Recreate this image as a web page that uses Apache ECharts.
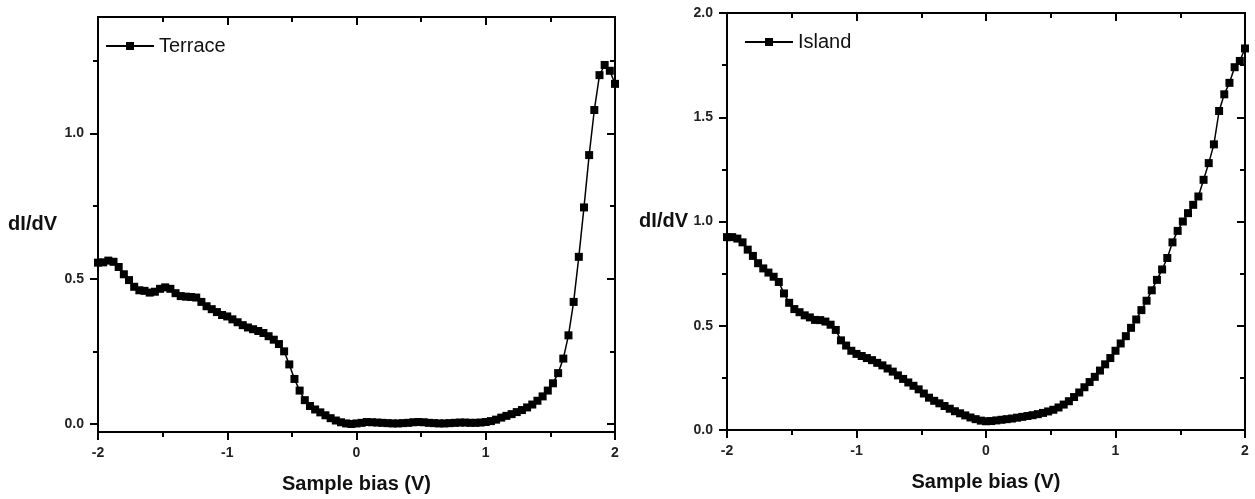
<!DOCTYPE html>
<html><head><meta charset="utf-8">
<script src="https://cdn.jsdelivr.net/npm/echarts@6/dist/echarts.min.js"></script>
<style>html,body{margin:0;padding:0;background:#fff}#c{width:1255px;height:499px}</style>
</head><body><div id="c"></div>
<script>
// Sample bias (V)
const bias = [-2,-1.96,-1.92,-1.88,-1.84,-1.8,-1.76,-1.72,-1.68,-1.64,
  -1.6,-1.56,-1.52,-1.48,-1.44,-1.4,-1.36,-1.32,-1.28,-1.24,
  -1.2,-1.16,-1.12,-1.08,-1.04,-1,-0.96,-0.92,-0.88,-0.84,
  -0.8,-0.76,-0.72,-0.68,-0.64,-0.6,-0.56,-0.52,-0.48,-0.44,
  -0.4,-0.36,-0.32,-0.28,-0.24,-0.2,-0.16,-0.12,-0.08,-0.04,
  0,0.04,0.08,0.12,0.16,0.2,0.24,0.28,0.32,0.36,
  0.4,0.44,0.48,0.52,0.56,0.6,0.64,0.68,0.72,0.76,
  0.8,0.84,0.88,0.92,0.96,1,1.04,1.08,1.12,1.16,
  1.2,1.24,1.28,1.32,1.36,1.4,1.44,1.48,1.52,1.56,
  1.6,1.64,1.68,1.72,1.76,1.8,1.84,1.88,1.92,1.96,2];
// dI/dV, Terrace
const terrace = [0.555,0.556,0.562,0.558,0.54,0.515,0.495,0.472,0.46,0.458,
  0.452,0.455,0.465,0.47,0.465,0.45,0.44,0.438,0.437,0.435,
  0.42,0.405,0.395,0.385,0.375,0.37,0.36,0.35,0.34,0.332,
  0.326,0.32,0.313,0.302,0.29,0.275,0.25,0.205,0.155,0.115,
  0.082,0.062,0.05,0.04,0.03,0.02,0.012,0.006,0.002,0.0,
  0.002,0.004,0.007,0.006,0.005,0.004,0.003,0.002,0.002,0.003,
  0.004,0.006,0.007,0.006,0.004,0.003,0.002,0.002,0.003,0.004,
  0.005,0.005,0.004,0.004,0.005,0.007,0.01,0.015,0.022,0.028,
  0.034,0.041,0.048,0.057,0.067,0.08,0.095,0.115,0.14,0.175,
  0.225,0.305,0.42,0.575,0.745,0.925,1.08,1.2,1.235,1.215,1.17];
// dI/dV, Island
const island = [0.925,0.925,0.918,0.9,0.865,0.835,0.8,0.775,0.755,0.735,
  0.71,0.655,0.61,0.58,0.565,0.55,0.54,0.528,0.527,0.52,
  0.505,0.48,0.43,0.405,0.38,0.365,0.355,0.345,0.335,0.322,
  0.31,0.295,0.28,0.262,0.245,0.228,0.212,0.195,0.175,0.155,
  0.14,0.128,0.115,0.102,0.09,0.08,0.07,0.06,0.052,0.045,
  0.042,0.043,0.046,0.049,0.052,0.055,0.059,0.063,0.067,0.071,
  0.076,0.082,0.089,0.097,0.108,0.122,0.138,0.158,0.18,0.205,
  0.23,0.255,0.285,0.315,0.345,0.38,0.415,0.45,0.49,0.53,
  0.575,0.62,0.67,0.72,0.77,0.825,0.9,0.955,1.0,1.04,
  1.08,1.12,1.2,1.28,1.37,1.53,1.61,1.665,1.74,1.77,1.83];

const xMajor = [-2,-1,0,1,2];
const xMinor = [-1.5,-0.5,0.5,1.5];
const yMajorTerrace = [0,0.5,1.0];
const yMinorTerrace = [0.25,0.75,1.25];
const yMajorIsland = [0,0.5,1.0,1.5,2.0];
const yMinorIsland = [0.25,0.75,1.25,1.75];

const FONT = "'Liberation Sans', Arial, Helvetica, sans-serif";
const lineSt = {color:'#000', width:2};

function axis(kind, gi, pos, min, max, ticks, len, inside, labels, fmt, extra) {
  return Object.assign({
    type:'value', gridIndex:gi, position:pos, min:min, max:max,
    axisLine:{show:true, onZero:false, lineStyle:lineSt},
    axisTick:{show:true, inside:inside, length:len, customValues:ticks, lineStyle:lineSt},
    axisLabel:{show:labels, customValues:ticks, margin:14, fontSize:14, fontWeight:'bold',
      fontFamily:FONT, color:'#222', formatter:fmt},
    splitLine:{show:false}
  }, extra || {});
}
const fx = v => String(v);
const fy = v => v.toFixed(1);
const xName = {name:'Sample bias (V)', nameLocation:'middle', nameGap:42,
  nameTextStyle:{fontSize:20, fontWeight:'bold', fontFamily:FONT, color:'#111'}};
function yName(gap, pad) {
  return {name:'dI/dV', nameLocation:'middle', nameGap:gap, nameRotate:0,
    nameTextStyle:{fontSize:20, fontWeight:'bold', fontFamily:FONT, color:'#111',
      align:'right', verticalAlign:'middle', padding:pad}};
}

const tMin = -0.0275, tMax = 1.4;
const xAxis = [];
const yAxis = [];
[0,1].forEach(gi => {
  xAxis.push(axis('x', gi, 'bottom', -2, 2, xMajor, 8, false, true, fx, xName));
  xAxis.push(axis('x', gi, 'bottom', -2, 2, xMinor, 5, false, false, fx));
  xAxis.push(axis('x', gi, 'top', -2, 2, xMajor, 8, true, false, fx));
  xAxis.push(axis('x', gi, 'top', -2, 2, xMinor, 5, true, false, fx));
});
yAxis.push(axis('y', 0, 'left', tMin, tMax, yMajorTerrace, 8, false, true, fy, yName(41, [0,0,0,0])));
yAxis.push(axis('y', 0, 'left', tMin, tMax, yMinorTerrace, 5, false, false, fy));
yAxis.push(axis('y', 0, 'right', tMin, tMax, yMajorTerrace, 8, true, false, fy));
yAxis.push(axis('y', 0, 'right', tMin, tMax, yMinorTerrace, 5, true, false, fy));
yAxis.push(axis('y', 1, 'left', 0, 2, yMajorIsland, 8, false, true, fy, yName(39, [0,0,27,0])));
yAxis.push(axis('y', 1, 'left', 0, 2, yMinorIsland, 5, false, false, fy));
yAxis.push(axis('y', 1, 'right', 0, 2, yMajorIsland, 8, true, false, fy));
yAxis.push(axis('y', 1, 'right', 0, 2, yMinorIsland, 5, true, false, fy));

function ser(name, vals, xi, yi) {
  return {
    name:name, type:'line', xAxisIndex:xi, yAxisIndex:yi,
    data: bias.map((x,i) => [x, vals[i]]),
    symbol:'rect', symbolSize:8, showSymbol:true,
    lineStyle:{color:'#000', width:1.5}, itemStyle:{color:'#000'},
    emphasis:{disabled:true}, clip:true
  };
}
const legendText = {fontSize:20, fontFamily:FONT, color:'#111'};
const option = {
  animation:false,
  backgroundColor:'#fff',
  grid:[
    {left:98, top:17, width:517, height:416},
    {left:727, top:13, width:518, height:417}
  ],
  xAxis: xAxis,
  yAxis: yAxis,
  legend:[
    {data:['Terrace'], left:105, top:36, itemWidth:48, itemHeight:10, padding:0, selectedMode:false, textStyle:legendText},
    {data:['Island'], left:744, top:32, itemWidth:48, itemHeight:10, padding:0, selectedMode:false, textStyle:legendText}
  ],
  series:[ser('Terrace', terrace, 0, 0), ser('Island', island, 4, 4)]
};
const chart = echarts.init(document.getElementById('c'), null, {renderer:'canvas'});
chart.setOption(option);
</script></body></html>
